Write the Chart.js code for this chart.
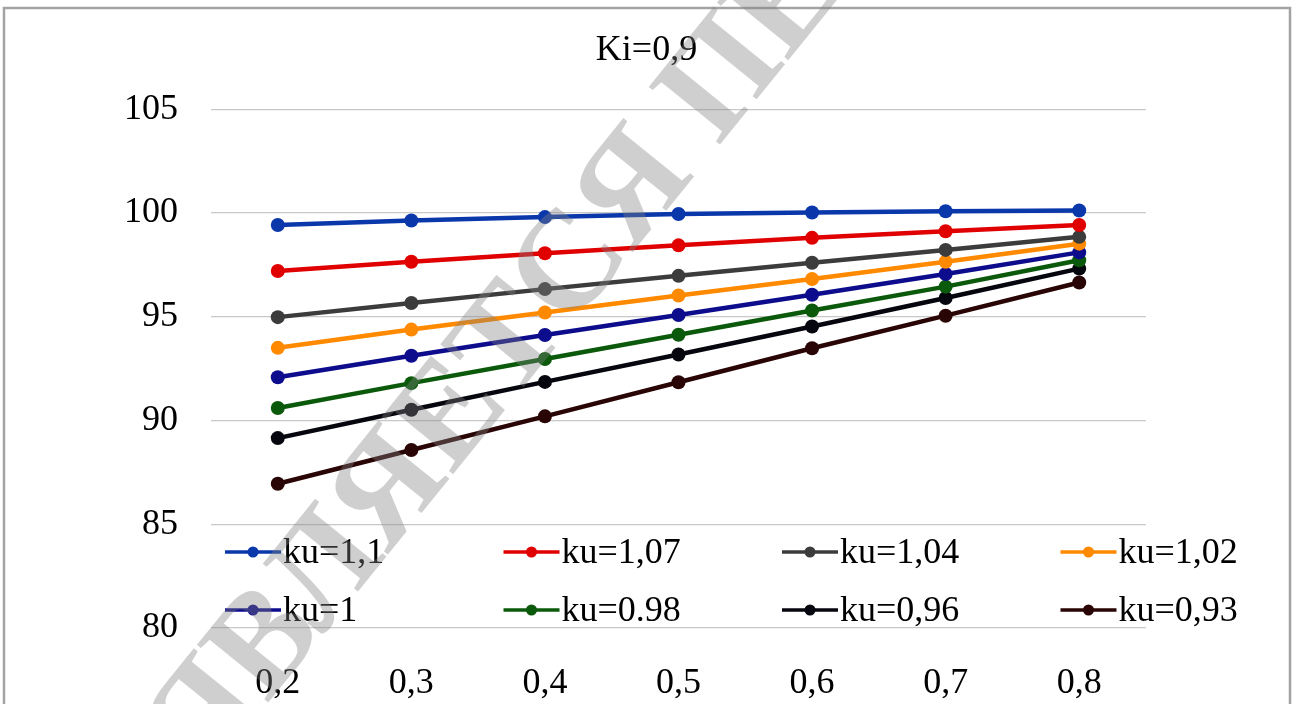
<!DOCTYPE html>
<html>
<head>
<meta charset="utf-8">
<title>Ki=0,9</title>
<script src="https://cdn.jsdelivr.net/npm/chart.js@4/dist/chart.umd.min.js"></script>
<style>
  body { margin: 0; background: #fff; }
  #wrap { position: relative; width: 1293px; height: 704px; }
</style>
</head>
<body>
<div id="wrap"><canvas id="lineChart"></canvas></div>
<script>
// Ki=0,9 ‚Äî eight ku curves

const xLabels = ["0,2", "0,3", "0,4", "0,5", "0,6", "0,7", "0,8"];
const seriesNames = ["ku=1,1", "ku=1,07", "ku=1,04", "ku=1,02", "ku=1", "ku=0.98", "ku=0,96", "ku=0,93"];

const ku110 = [99.42, 99.64, 99.8, 99.95, 100.02, 100.08, 100.12];
const ku107 = [97.2, 97.65, 98.06, 98.44, 98.8, 99.12, 99.42];
const ku104 = [94.98, 95.66, 96.33, 96.97, 97.6, 98.22, 98.85];
const ku102 = [93.5, 94.38, 95.2, 96.02, 96.82, 97.65, 98.52];
const ku100 = [92.08, 93.12, 94.12, 95.08, 96.06, 97.06, 98.1];
const ku098 = [90.6, 91.8, 92.96, 94.13, 95.3, 96.45, 97.72];
const ku096 = [89.15, 90.52, 91.86, 93.18, 94.53, 95.9, 97.32];
const ku093 = [86.95, 88.58, 90.2, 91.84, 93.48, 95.05, 96.65];

const seriesValues = [ku110, ku107, ku104, ku102, ku100, ku098, ku096, ku093];
const colors = ["#0a37aa", "#e00000", "#3c3c3c", "#ff8a00", "#0c0c8c", "#0b5a0b", "#06060e", "#2a0505"];

const fontFamily = "'Liberation Serif', 'Times New Roman', serif";

// legend sits inside the plot, 2 rows x 4 columns
const legendInside = {
  id: "legendInside",
  afterDraw(chart) {
    const ctx = chart.ctx;
    ctx.save();
    ctx.font = "36px " + fontFamily;
    ctx.textBaseline = "middle";
    chart.data.datasets.forEach((ds, i) => {
      const x = 225 + (i % 4) * 278.5;
      const y = i < 4 ? 552 : 610;
      ctx.strokeStyle = ds.borderColor;
      ctx.lineWidth = 3.5;
      ctx.beginPath(); ctx.moveTo(x, y); ctx.lineTo(x + 56, y); ctx.stroke();
      ctx.fillStyle = ds.borderColor;
      ctx.beginPath(); ctx.arc(x + 28, y, 5.5, 0, Math.PI * 2); ctx.fill();
      ctx.fillStyle = "#000";
      ctx.fillText(ds.label, x + 58, y + 2);
    });

    // frame round the chart
    ctx.strokeStyle = "#a3a3a3";
    ctx.lineWidth = 2.5;
    ctx.strokeRect(4, 8, 1286, 720);

    // pale watermark across the picture
    ctx.translate(175, 760);
    ctx.rotate(-51 * Math.PI / 180);
    ctx.font = "bold 140px " + fontFamily;
    ctx.fillStyle = "rgba(128,128,128,0.38)";
    ctx.textBaseline = "middle";
    ctx.fillText("ЯВЛЯЕТСЯ ПЕ", 0, 0);
    ctx.restore();
  }
};

const ctx = document.getElementById("lineChart").getContext("2d");
new Chart(ctx, {
  type: "line",
  data: {
    labels: xLabels,
    datasets: seriesValues.map((vals, i) => ({
      label: seriesNames[i],
      data: vals,
      borderColor: colors[i],
      backgroundColor: colors[i],
      pointBackgroundColor: colors[i],
      pointBorderWidth: 0,
      pointRadius: 7,
      borderWidth: 4.5,
      tension: 0,
      fill: false
    }))
  },
  options: {
    responsive: true,
    maintainAspectRatio: false,
    animation: false,
    layout: { padding: 0 },
    plugins: {
      legend: { display: false },
      tooltip: { enabled: false },
      title: {
        display: true,
        text: "Ki=0,9",
        color: "#000",
        font: { family: fontFamily, size: 36, weight: "normal" },
        padding: { top: 29, bottom: 37 }
      }
    },
    scales: {
      x: {
        offset: true,
        grid: { display: false, drawTicks: false },
        border: { display: false },
        ticks: { color: "#000", font: { family: fontFamily, size: 36 }, padding: 34, maxRotation: 0 },
        afterFit(scale) { scale.height = 76; }
      },
      y: {
        min: 80,
        max: 105,
        grid: { color: "#c8c8c8", lineWidth: 1.3, drawTicks: false },
        border: { display: false },
        ticks: { stepSize: 5, color: "#000", font: { family: fontFamily, size: 36 }, padding: 33 },
        afterFit(scale) { scale.width = 211; }
      },
      // empty right-hand axis keeps the right margin so the title stays centred on the page
      yRight: {
        position: "right",
        grid: { display: false, drawTicks: false },
        border: { display: false },
        ticks: { display: false },
        afterFit(scale) { scale.width = 147; }
      }
    }
  },
  plugins: [legendInside]
});
</script>
</body>
</html>
